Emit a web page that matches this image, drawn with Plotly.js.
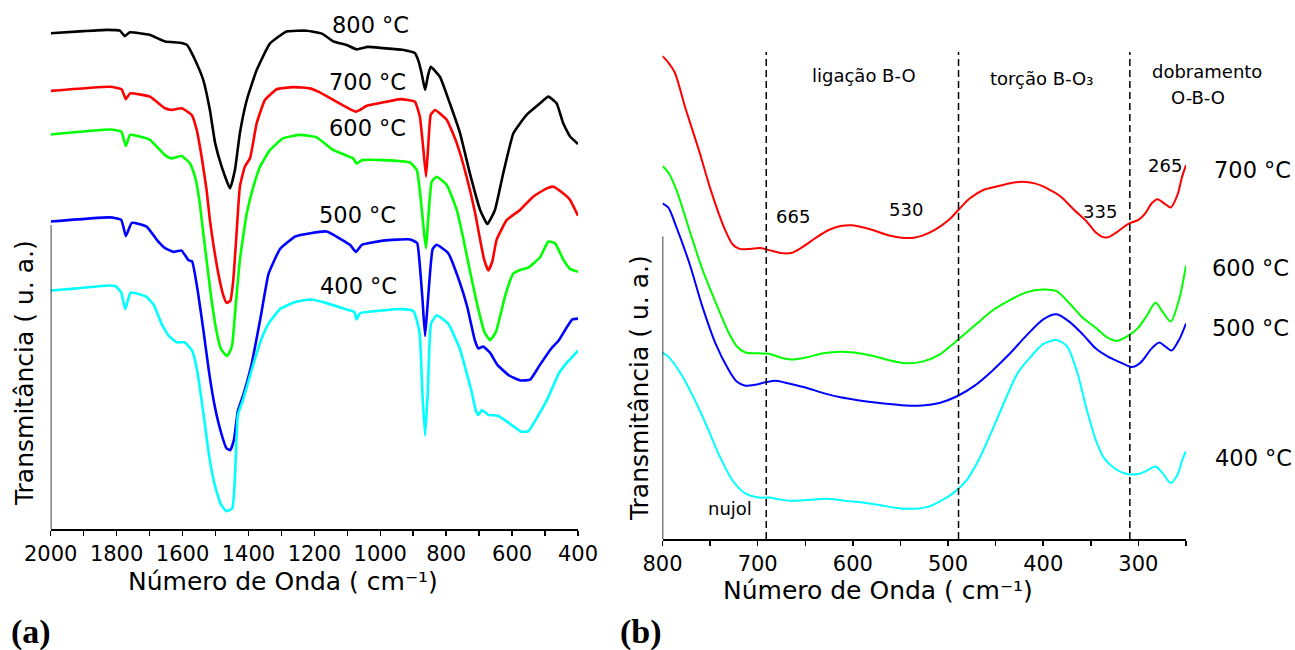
<!DOCTYPE html>
<html>
<head>
<meta charset="utf-8">
<script src="https://cdn.plot.ly/plotly-3.0.1.min.js"></script>
<style>html,body{margin:0;padding:0;background:#fff}#chart{width:1295px;height:650px}</style>
</head>
<body>
<div id="chart"></div>
<script>
// ---------- Panel (a): FTIR spectra, 2000-400 cm-1 ----------
const temps = ["800 °C", "700 °C", "600 °C", "500 °C", "400 °C"];
const colors = ["#000000", "#ff0000", "#00ff00", "#0000ff", "#00ffff"];

const wnA800 = [2000,1900,1830,1790,1775,1760,1700,1653,1607,1587,1557,1537,1517,1501,1481,1456,1441,1426,1405,1375,1335,1284,1223,1177,1142,1100,1072,1038,991,933,895,885,875,864,856,847,819,789,758,728,697,675,652,627,596,556,515,490,465,445,424,400];
const tA800 = [119.5,120,120.3,120.1,118.8,119.7,119.1,117.5,117.2,116.7,112.2,108.2,101,93,87.3,82.1,86.5,95.4,103.4,110.6,117,119.9,120.1,119.4,117.5,116.6,115.6,116.2,115.9,115.5,114.7,113,110,105.8,109,111.4,109,102.6,95.4,85.7,76.9,73.5,76.9,85.7,95.4,99.8,102.6,104.2,102.6,97.8,94.6,92.8];

const wnA700 = [2000,1820,1785,1772,1759,1699,1653,1633,1603,1572,1557,1542,1527,1517,1507,1490,1475,1466,1455,1446,1436,1426,1411,1395,1375,1350,1314,1264,1213,1188,1142,1074,1041,980,940,895,880,869,861,854,847,834,798,768,738,712,697,685,672,660,647,616,576,536,495,475,445,424,400];
const tA700 = [105.6,106.6,106,103.6,105,104.2,101.4,101,101.4,99.8,96.2,89.7,81.7,74.5,68.9,61,56,54.5,55,60,71.3,82.5,87.3,89.4,97.8,103.4,106,106.5,106.2,105.4,103.4,100.6,102,103,103.6,103,99.4,91.3,84.9,93,99.8,101,98.6,93,84.9,76.1,69.7,65,62.3,64.5,69.7,74.5,76.9,80.1,82.1,82.5,80.9,79.3,75.5];

const wnA600 = [2000,1820,1786,1772,1759,1699,1653,1633,1603,1577,1562,1549,1537,1527,1515,1500,1484,1466,1455,1449,1438,1426,1405,1385,1365,1335,1294,1244,1193,1142,1082,1072,1056,991,909,889,877,867,861,854,844,829,798,768,748,730,707,684,667,649,620,597,574,551,515,490,470,445,424,400];
const tA600 = [95.1,96.3,95.8,92.3,95,93.8,90.1,89.3,89.9,88.1,84.9,79.3,71.3,64.8,57,49,43.5,41.7,43,44.5,54.5,64.8,76.1,82.5,87.3,91.3,94.2,95,94.4,91.3,89.3,88.1,88.9,88.9,88.3,86.5,79.3,71.3,67.7,75.3,83.7,84.9,82.9,76.9,70,63,54.5,47.5,45.5,47.5,56.5,61.5,62.5,63,65.5,69.3,68.9,65,62.7,62];

const wnA500 = [2000,1820,1786,1772,1754,1709,1678,1653,1628,1603,1582,1571,1554,1536,1519,1502,1484,1467,1455,1444,1432,1415,1391,1362,1339,1304,1258,1212,1163,1092,1074,1056,991,909,888,881,872,864,855,841,829,794,759,736,713,702,688,667,644,609,574,545,516,481,458,435,417,400];
const tA500 = [74.1,75.1,74.5,70.6,73.8,72.9,69.7,67.7,66.8,67.1,64.8,64.5,57.5,47.5,37.5,29.5,23.5,19.5,19,21.5,28.5,32.5,39.5,51.5,61.5,67.5,70.5,71.3,71.7,68.5,66.8,68.5,69.5,69.8,68.9,64.5,55.5,46.5,55.5,67.5,68.5,66.5,59.5,53.5,45.5,43.5,44,42.5,39.5,37,35.8,36,39.5,43.5,45.5,48.5,50.5,50.7];

const wnA400 = [2000,1919,1826,1803,1786,1774,1757,1710,1687,1664,1641,1617,1594,1571,1554,1536,1519,1502,1484,1467,1449,1441,1432,1415,1386,1362,1339,1304,1258,1212,1165,1107,1078,1072,1061,991,933,899,881,872,864,856,846,829,794,759,724,710,702,692,672,643,609,574,551,527,492,458,440,429,417,400];
const tA400 = [57.5,58,58.7,58.5,57,53,57,56,54,49.5,46.5,45,45,43,37.5,27.5,17.5,10.5,6,4.3,5,12.5,27.5,31.5,39.5,45.5,49.5,53,54.7,55.3,54.5,53,52.3,50.5,52,52.7,53,52.5,47.5,32.5,22.5,32.5,49.5,51.5,49.5,43.5,33.5,28.5,27.5,28.7,27.5,27.3,25.5,23.5,23.5,26.5,31.5,37.5,39.5,40.5,41.5,43];

// ---------- Panel (b): far-IR spectra, 800-250 cm-1 ----------
const tempsB = ["700 °C", "600 °C", "500 °C", "400 °C"];
const colorsB = ["#ff0000", "#00ff00", "#0000ff", "#00ffff"];

const wnB700 = [800,794,787,776,762,749,735,726,719,708,697,688,676,665,654,640,626,613,601,590,576,563,549,536,527,513,499,488,477,463,450,436,422,409,395,382,368,354,345,338,332,323,311,300,293,286,280,273,266,259,254,250];
const tB700 = [116.5,115,112.5,104,94,84,75,71,70,70,70.2,69.7,69,69,70.3,72.5,74.5,75.5,75.7,75.2,74.3,73.3,72.7,72.7,73.2,74.7,77,79.7,82.2,84.2,85,85.8,86.2,85.8,84.5,82.7,79.5,76.5,74,72.9,72.8,74,76,77,78.5,81,82,81,80,83,87.5,90.2];

const wnB600 = [800,794,785,771,758,744,731,722,713,699,688,676,663,649,631,613,599,581,563,545,527,509,490,472,454,436,418,400,386,373,359,345,332,323,311,300,291,282,275,266,257,250];
const tB600 = [90,88.5,84,74,65,57,50,46.5,45,44.8,44.7,43.8,43.3,43.8,44.8,45.2,45,44.3,43.2,42.4,42.8,44.5,48,51.5,55,57.5,59.5,60.2,59.8,57,53.5,51,48.5,47.8,49,51,54,57,55,52.5,58,66];

const wnB500 = [800,794,785,771,758,744,731,722,713,703,692,681,667,649,631,613,595,572,549,527,509,490,472,454,436,418,400,386,373,359,345,332,318,307,298,286,278,272,265,257,250];
const tB500 = [81,80,75,66,56,47,41,38,37,37.2,37.8,38.2,37.5,36.5,35.2,34.2,33.5,32.8,32.3,32.2,32.8,34.5,37,40.5,44.5,49,53,54.2,52.5,49.5,46,44,42.5,41.5,42.5,46,47.4,46.5,45.5,48.2,52];

const wnB400 = [800,794,781,767,753,740,726,713,699,688,676,663,645,626,608,590,572,554,536,522,509,495,481,468,454,441,427,413,400,386,375,364,354,345,336,325,314,300,291,282,275,266,259,254,250];
const tB400 = [45,44,40,34,27,20,14,11,10,10,9.5,9.2,9.5,9.7,9.2,8.8,8.2,7.5,7.3,7.7,9,11,14,19,26,33,40,44,47,48,46.5,40,31,24,19.5,17,15.8,15.7,16.5,17.5,16,13.5,15.5,19,21.2];

// region borders (dashed) and band labels in panel (b)
const bandEdges = [691, 489, 309];
const peakLabels = ["665", "530", "335", "265"];

// ---------- build ----------
const W = 1295, H = 650;
const FONT = '"DejaVu Sans", Arial, sans-serif';
const SERIF = '"Liberation Serif", "Times New Roman", serif';
const px = v => v / W, py = v => 1 - v / H;

const seriesA = [[wnA800,tA800],[wnA700,tA700],[wnA600,tA600],[wnA500,tA500],[wnA400,tA400]];
const seriesB = [[wnB700,tB700],[wnB600,tB600],[wnB500,tB500],[wnB400,tB400]];

const traces = [];
seriesA.forEach((s, i) => traces.push({
  x: s[0], y: s[1], type: 'scatter', mode: 'lines', name: temps[i],
  xaxis: 'x', yaxis: 'y', line: {color: colors[i], width: 2.6, shape: 'spline', smoothing: 0.4}, hoverinfo: 'skip'
}));
seriesB.forEach((s, i) => traces.push({
  x: s[0], y: s[1], type: 'scatter', mode: 'lines', name: tempsB[i],
  xaxis: 'x2', yaxis: 'y2', line: {color: colorsB[i], width: 2, shape: 'spline', smoothing: 0.8}, hoverinfo: 'skip'
}));

const xCommon = {
  showline: true, linecolor: '#000', linewidth: 1.5, mirror: false,
  ticks: 'outside', ticklen: 5, tickwidth: 1.5, tickcolor: '#000',
  showgrid: false, zeroline: false,
  tickfont: {family: FONT, size: 21, color: '#000'}
};
const yCommon = {showline: false, showticklabels: false, ticks: '', showgrid: false, zeroline: false};

const shapes = [
  {type: 'line', xref: 'x', yref: 'y', x0: 2000, x1: 2000, y0: 0, y1: 73.3, line: {color: '#000', width: 1.5}},
  {type: 'line', xref: 'x2', yref: 'y2', x0: 800, x1: 800, y0: 0, y1: 73, line: {color: '#000', width: 1.5}}
];
bandEdges.forEach(e => shapes.push({type: 'line', xref: 'x2', yref: 'y2', x0: e, x1: e, y0: 0, y1: 117.5,
  line: {color: '#000', width: 1.5, dash: '7px,4px'}}));

function ann(text, x, y, size, extra) {
  return Object.assign({text: text, xref: 'paper', yref: 'paper', x: px(x), y: py(y),
    xanchor: 'center', yanchor: 'middle', showarrow: false,
    font: {family: FONT, size: size, color: '#000'}}, extra || {});
}
const xTitle = 'Número de Onda ( cm⁻¹)';
const yTitle = 'Transmitância ( u. a.)';
const boldSerif = {font: {family: SERIF, size: 34, color: '#000', weight: 'bold'}};
const annotations = [
  ann(temps[0], 370, 25, 22.5), ann(temps[1], 367, 82, 22.5), ann(temps[2], 367, 128, 22.5),
  ann(temps[3], 357, 215, 22.5), ann(temps[4], 358, 286, 22.5),
  ann(yTitle, 24, 373, 25, {textangle: -90}),
  ann(yTitle, 639, 388, 25, {textangle: -90}),
  ann(xTitle, 283, 581, 25),
  ann(xTitle, 878, 590, 25),
  ann('(a)', 31, 632, 34, boldSerif),
  ann('(b)', 641, 632, 34, boldSerif),
  ann('ligação B-O', 864, 75, 18),
  ann('torção B-O₃', 1041, 78, 18),
  ann('dobramento', 1207, 72, 18),
  ann('O-B-O', 1198, 97, 18),
  ann(peakLabels[0], 793, 216, 18), ann(peakLabels[1], 906, 209, 18),
  ann(peakLabels[2], 1100, 212, 18), ann(peakLabels[3], 1165, 165, 18),
  ann(tempsB[0], 1252, 170, 22.5), ann(tempsB[1], 1250, 268, 22.5),
  ann(tempsB[2], 1250, 328, 22.5), ann(tempsB[3], 1253, 458, 22.5),
  ann('nujol', 730, 508, 18)
];

const layout = {
  width: W, height: H, margin: {l: 0, r: 0, t: 0, b: 0},
  paper_bgcolor: '#fff', plot_bgcolor: 'rgba(0,0,0,0)', showlegend: false,
  font: {family: FONT, color: '#000'},
  xaxis: Object.assign({}, xCommon, {domain: [px(50.7), px(578)], range: [2000, 400], autorange: false,
    dtick: 200, tick0: 0, minor: {dtick: 100, ticks: 'outside', ticklen: 5, tickwidth: 1.5, tickcolor: '#000'},
    anchor: 'y'}),
  yaxis: Object.assign({}, yCommon, {domain: [py(529), 1], range: [0, 127.5], autorange: false, anchor: 'x'}),
  xaxis2: Object.assign({}, xCommon, {domain: [px(662.5), px(1186)], range: [800, 250], autorange: false,
    dtick: 100, tick0: 0, minor: {dtick: 50, ticks: 'outside', ticklen: 5, tickwidth: 1.5, tickcolor: '#000'},
    anchor: 'y2'}),
  yaxis2: Object.assign({}, yCommon, {domain: [py(539), py(40)], range: [0, 120.4], autorange: false, anchor: 'x2'}),
  shapes: shapes, annotations: annotations
};

Plotly.newPlot('chart', traces, layout, {staticPlot: true, displayModeBar: false});
</script>
</body>
</html>
